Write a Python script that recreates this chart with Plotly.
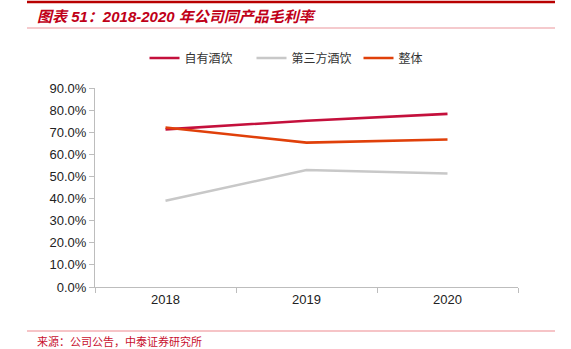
import plotly.graph_objects as go

years = ["2018", "2019", "2020"]
own_drinks = [71.3, 75.2, 78.3]
third_party = [39.0, 52.9, 51.3]
overall = [72.1, 65.3, 66.7]
series_names = ["自有酒饮", "第三方酒饮", "整体"]
colors = ["#C4103C", "#C8C8C8", "#E0400A"]
y_ticks = [0, 10, 20, 30, 40, 50, 60, 70, 80, 90]
y_tick_text = [f"{v:.1f}%" for v in y_ticks]

W, H = 571, 349
L, R, T, B = 95, 518, 88, 287

def px(x):
    return (x - L) / (R - L)

def py(y):
    return (B - y) / (B - T)

fig = go.Figure()
for name, vals, c in zip(series_names, [own_drinks, third_party, overall], colors):
    fig.add_trace(go.Scatter(x=years, y=vals, name=name, mode="lines",
                             line=dict(color=c, width=2.6)))

fig.update_layout(
    width=W, height=H,
    margin=dict(l=L, r=W - R, t=T, b=H - B, pad=0),
    paper_bgcolor="white", plot_bgcolor="white",
    font=dict(family="Liberation Sans, Arial, Noto Sans CJK SC", size=13, color="#222"),
    showlegend=True,
    legend=dict(orientation="h", x=px(305), xanchor="center", y=py(58), yanchor="middle",
                font=dict(family="Noto Sans CJK SC", size=12, color="#333"),
                entrywidth=62, entrywidthmode="pixels", tracegroupgap=0),
    xaxis=dict(type="category", showgrid=False, showline=True, linecolor="#BDBDBD",
               linewidth=1, ticks="outside", tickson="boundaries", ticklen=5,
               tickcolor="#BDBDBD", tickfont=dict(size=13, color="#222"),
               range=[-0.5, 2.5]),
    yaxis=dict(range=[0, 90], tickvals=y_ticks, ticktext=y_tick_text,
               showgrid=False, showline=True, linecolor="#BDBDBD", linewidth=1,
               ticks="outside", ticklen=5, tickcolor="#BDBDBD",
               tickfont=dict(size=13, color="#222"), zeroline=False),
)

shapes = [
    dict(type="line", xref="paper", yref="paper", x0=px(27), x1=px(555), y0=py(2), y1=py(2),
         line=dict(color="#B80000", width=2.5)),
    dict(type="line", xref="paper", yref="paper", x0=px(27), x1=px(555), y0=py(28), y1=py(28),
         line=dict(color="#F2B8BC", width=1.5)),
    dict(type="line", xref="paper", yref="paper", x0=px(27), x1=px(555), y0=py(331), y1=py(331),
         line=dict(color="#EE8A90", width=1.2)),
]
fig.update_layout(shapes=shapes)

fig.add_annotation(text="<b><i>图表 51：2018-2020 年公司同产品毛利率</i></b>",
                   xref="paper", yref="paper", x=px(35), y=py(16), xanchor="left",
                   yanchor="middle", showarrow=False,
                   font=dict(family="Liberation Sans, Noto Sans CJK SC", size=15, color="#C00018"))
fig.add_annotation(text="来源：公司公告，中泰证券研究所",
                   xref="paper", yref="paper", x=px(35), y=py(341), xanchor="left",
                   yanchor="middle", showarrow=False,
                   font=dict(family="Noto Sans CJK SC", size=11, color="#C8102E"))

fig.write_html("out.html")
